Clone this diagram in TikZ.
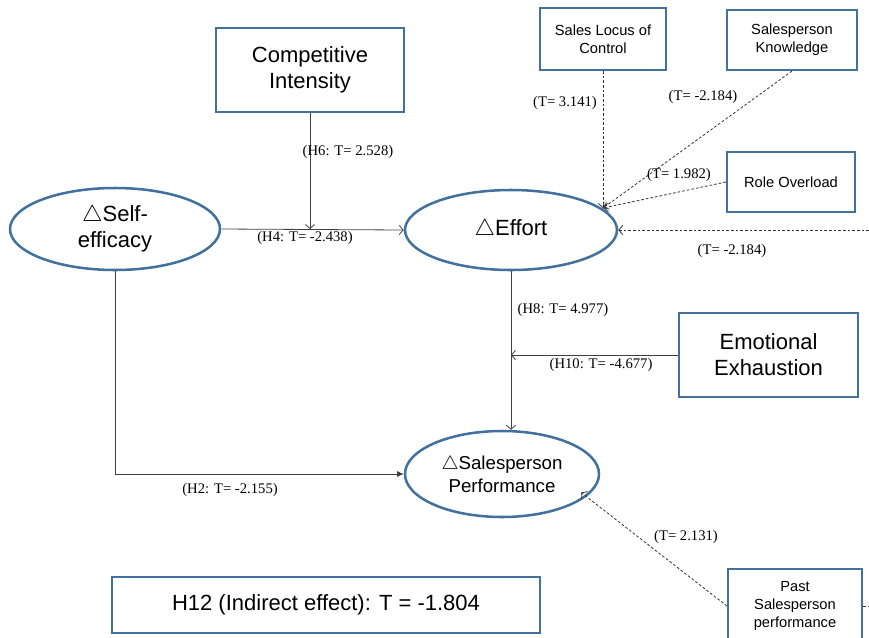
\documentclass[tikz,border=0pt]{standalone}
\usepackage{fontspec}
\setmainfont{Liberation Sans}
\newfontfamily\lblfont{Liberation Serif}
\usetikzlibrary{shapes.geometric,arrows.meta}
\definecolor{boxblue}{RGB}{65,113,156}
\begin{document}
\begin{tikzpicture}[x=0.75pt,y=-0.75pt,
	kasten/.style={draw=boxblue,line width=1.6pt,align=center,inner sep=0pt},
	oval/.style={ellipse,draw=boxblue,line width=1.9pt,align=center,inner sep=0pt},
	gross/.style={font=\fontsize{16.5}{19.5}\selectfont},
	klein/.style={font=\fontsize{11}{13.5}\selectfont},
	lbl/.style={font=\lblfont\fontsize{11}{13}\selectfont,inner sep=0pt},
	pfeil/.style={draw=black!75,line width=0.6pt,-{Straight Barb[length=3pt,width=7pt]}},
	strich/.style={draw=black!80,line width=0.6pt,dash pattern=on 2pt off 1.5pt,-{Straight Barb[length=3pt,width=7pt]}}]
	\useasboundingbox (0,0) rectangle (869,637);
	% Konstrukte
	\node[oval,gross,minimum width=157.5pt,minimum height=61.5pt] (se) at (115,229) {$\triangle$Self-\\efficacy};
	\node[oval,gross,minimum width=159pt,minimum height=60pt] (eff) at (511,230) {$\triangle$Effort};
	\node[oval,font=\fontsize{14}{17}\selectfont,minimum width=145.5pt,minimum height=64.5pt] (sp) at (502,474) {$\triangle$Salesperson\\Performance};
	% Kaesten
	\node[kasten,gross,minimum width=141pt,minimum height=63pt] (ci) at (310,70) {Competitive\\Intensity};
	\node[kasten,gross,minimum width=134.25pt,minimum height=63pt] (ee) at (768.5,355) {Emotional\\Exhaustion};
	\node[kasten,klein,minimum width=94.5pt,minimum height=46.5pt] (slc) at (603,39) {Sales Locus of\\Control};
	\node[kasten,klein,minimum width=97.5pt,minimum height=45pt] (sk) at (792,40) {Salesperson\\Knowledge};
	\node[kasten,klein,minimum width=96pt,minimum height=45pt] (ro) at (791,182) {Role Overload};
	\node[kasten,klein,minimum width=100.5pt,minimum height=55.5pt] (past) at (795,606) {Past\\Salesperson\\performance};
	\node[kasten,gross,minimum width=321pt,minimum height=42pt] (h12) at (326,605) {H12 (Indirect effect): T = -1.804};
	% Hilfspunkte
	\coordinate (hub) at (603,208);
	\coordinate (rend) at (869,230);
	% Pfade
	\draw[pfeil] (se.east) -- (eff.west);
	\draw[pfeil] (ci.south) -- (ci.south |- se.east);
	\draw[pfeil] (eff.south) -- (eff.south |- sp.north);
	\draw[pfeil] (ee.west) -- (ee.west -| eff.south);
	\draw[draw=black!75,line width=0.6pt,-{Latex[length=5pt,width=4.5pt]}] (se.south) |- (sp.west);
	\draw[strich] (slc.south) -- (hub);
	\draw[strich] (sk.south) -- (hub);
	\draw[strich] (ro.west) -- (hub);
	\draw[strich] (rend) -- (eff.east);
	\draw[strich,shorten >=-5pt] (past.west) -- (sp.-15);
	\draw[draw=black!80,line width=0.6pt,dash pattern=on 2pt off 1.5pt] (past.east) -- (past.east -| rend);
	% Beschriftungen
	\node[lbl] (l6) at (348,152) {(H6: T= 2.528)};
	\node[lbl] (l4) at (305,238) {(H4: T= -2.438)};
	\node[lbl] (l8) at (563,310) {(H8: T= 4.977)};
	\node[lbl] (l10) at (601,365) {(H10: T= -4.677)};
	\node[lbl] (l2) at (230,490) {(H2: T= -2.155)};
	\node[lbl] (lslc) at (565,103) {(T= 3.141)};
	\node[lbl] (lsk) at (703,97) {(T= -2.184)};
	\node[lbl] (lro) at (679,175) {(T= 1.982)};
	\node[lbl] (lr) at (732,251) {(T= -2.184)};
	\node[lbl] (lpast) at (686,537) {(T= 2.131)};
\end{tikzpicture}
\end{document}
